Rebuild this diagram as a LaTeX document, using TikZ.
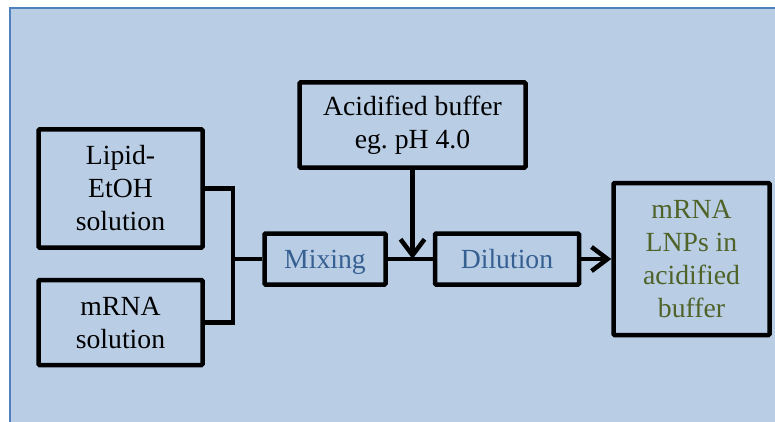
\documentclass[tikz,border=0pt]{standalone}
\usepackage{fontspec}
\setmainfont{Liberation Serif}
\usepackage{xcolor}
\usetikzlibrary{arrows.meta,positioning,calc}
\definecolor{panelbg}{RGB}{185,205,229}
\definecolor{panelrule}{RGB}{79,129,189}
\definecolor{steptext}{RGB}{54,96,146}
\definecolor{outtext}{RGB}{79,98,40}

\begin{document}
\begin{tikzpicture}[
  x=1pt, y=-1pt,
  every node/.style={font=\fontsize{27.7}{33}\selectfont, draw, line width=4.5pt,
    inner sep=0pt, align=center, rounded corners=1pt},
  box/.style={text=black},
  proc/.style={text=steptext, text height=19pt, text depth=0pt},
  conn/.style={line width=4.5pt},
  arr/.style={conn, -{Straight Barb[length=16pt,width=24pt,line width=4.5pt]}}
]
\useasboundingbox (0,0) rectangle (775,422);
\draw[fill=panelbg, draw=panelrule, line width=2pt] (10,8) rectangle (790,440);

\node[box, minimum width=164pt, minimum height=118pt] (lipid) at (120.5,188.5) {Lipid-\\EtOH\\solution};
\node[box, minimum width=164pt, minimum height=85pt, below=28pt of lipid] (mrna) {mRNA\\solution};
\node[proc, minimum width=121pt, minimum height=51pt] (mix) at (325,259) {Mixing};
\node[proc, minimum width=144pt, minimum height=51pt, right=45pt of mix] (dil) {Dilution};
\node[box, minimum width=226pt, minimum height=85pt] (acid) at (412.5,125) {Acidified buffer\\eg.\ pH 4.0};
\node[text=outtext, minimum width=156pt, minimum height=152pt, right=30pt of dil] (lnp) {mRNA\\LNPs in\\acidified\\buffer};

\coordinate (join) at (233,259);
\draw[conn] (lipid.east) -| (join) |- (mrna.east);
\draw[conn] (join) -- (mix.west);
\draw[conn] (mix.east) -- (dil.west);
\draw[arr] (acid.south) -- (acid.south |- mix.east);
\draw[arr] (dil.east) -- (lnp.west);
\end{tikzpicture}
\end{document}
